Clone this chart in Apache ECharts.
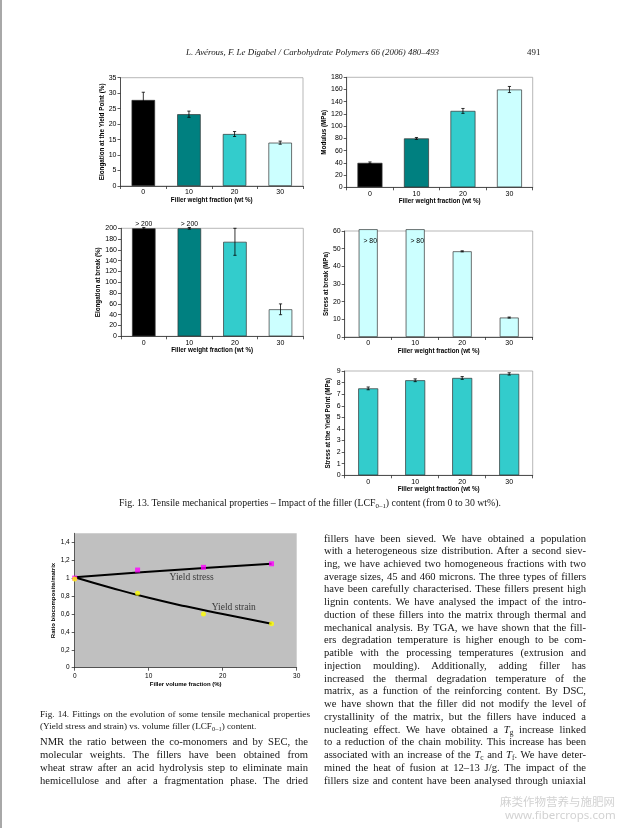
<!DOCTYPE html>
<html><head><meta charset="utf-8">
<script src="https://cdn.jsdelivr.net/npm/echarts@6/dist/echarts.min.js"></script>
<style>
html,body{margin:0;padding:0;background:#fff;}
#page{position:relative;width:620px;height:828px;overflow:hidden;background:#fff;}
#chart{position:absolute;left:0;top:0;width:620px;height:828px;}
.t{position:absolute;font-family:"Liberation Serif","Times New Roman",serif;color:#151515;white-space:nowrap;}
.j{text-align:justify;text-align-last:justify;white-space:normal;}
.t sub{font-size:70%;vertical-align:-2px;line-height:0;}
</style></head><body>
<div id="page"><div id="chart"></div><div id="txt"></div></div>
<script>
// ---------- data ----------
const fracCats = ['0', '10', '20', '30'];
const elongYield = [27.8, 23.2, 16.8, 14.0];
const elongYieldErr = [2.5, 1.0, 0.8, 0.5];
const modulus = [40, 80, 125, 160];
const modulusErr = [1.5, 1.5, 4, 5];
const elongBreak = [200, 200, 175, 50];
const elongBreakErr = [1.5, 1.5, 25, 10];
const elongBreakLabels = ['> 200', '> 200', '', ''];
const stressBreak = [61, 61, 48.5, 11];
const stressBreakErr = [0, 0, 0.3, 0.3];
const stressBreakLabels = ['> 80', '> 80', '', ''];
const stressYield = [7.5, 8.2, 8.4, 8.75];
const stressYieldErr = [0.12, 0.12, 0.12, 0.1];

const volFraction = [0, 8.5, 17.4, 26.6];
const yieldStressRatio = [1.0, 1.09, 1.12, 1.16];
const yieldStrainRatio = [0.99, 0.83, 0.60, 0.49];
const stressFitX = [0, 9, 18, 26.6];
const stressFitY = [1.01, 1.065, 1.115, 1.16];
const strainFitX = [0, 5, 10, 15, 20, 26.6];
const strainFitY = [1.01, 0.89, 0.78, 0.685, 0.60, 0.49];
const fitLabels = ['Yield stress', 'Yield strain'];
const fitLabelX = [15.8, 21.5];
const fitLabelY = [1.01, 0.67];

// ---------- helpers ----------
const sans = 'Liberation Sans, Arial, sans-serif';
const colors4 = ['#000000', '#008080', '#33cccc', '#ccffff'];

function yAx(gi, max, interval, name, gap) {
  return {
    type: 'value', gridIndex: gi, min: 0, max: max, interval: interval,
    name: name, nameLocation: 'middle', nameRotate: 90, nameGap: gap,
    nameTextStyle: {fontFamily: sans, fontWeight: 'bold', fontSize: 6.3, color: '#000'},
    axisLine: {show: true, lineStyle: {color: '#333', width: 0.8}},
    axisTick: {show: true, length: 3, lineStyle: {color: '#333', width: 0.8}},
    axisLabel: {fontSize: 7, color: '#000', margin: 4, fontFamily: sans},
    splitLine: {show: false}
  };
}
function xAx(gi, name, gap) {
  return {
    type: 'category', gridIndex: gi, data: fracCats,
    name: name, nameLocation: 'middle', nameGap: gap,
    nameTextStyle: {fontFamily: sans, fontWeight: 'bold', fontSize: 6.3, color: '#000'},
    axisLine: {show: true, lineStyle: {color: '#333', width: 0.8}},
    axisTick: {show: true, length: 3, alignWithLabel: false, lineStyle: {color: '#333', width: 0.8}},
    axisLabel: {fontSize: 7, color: '#000', margin: 3, fontFamily: sans},
    splitLine: {show: false}
  };
}
function errRender(params, api) {
  const i = api.value(0), v = api.value(1), e = api.value(2);
  if (!e) return null;
  const top = api.coord([i, v + e]);
  const bot = api.coord([i, v - e]);
  const h = 1.6;
  const st = {stroke: '#000', lineWidth: 0.8};
  return {type: 'group', children: [
    {type: 'line', shape: {x1: top[0], y1: top[1], x2: bot[0], y2: bot[1]}, style: st},
    {type: 'line', shape: {x1: top[0] - h, y1: top[1], x2: top[0] + h, y2: top[1]}, style: st},
    {type: 'line', shape: {x1: bot[0] - h, y1: bot[1], x2: bot[0] + h, y2: bot[1]}, style: st}
  ]};
}
function barSeries(gi, vals, cols, width, labels, labelPos) {
  return {
    type: 'bar', xAxisIndex: gi, yAxisIndex: gi, barWidth: width, clip: false,
    data: vals.map((v, i) => {
      const d = {value: v, itemStyle: {color: cols[i], borderColor: '#333', borderWidth: 0.7}};
      if (labels && labels[i]) {
        d.label = Object.assign({show: true, formatter: labels[i], fontSize: 6.8, color: '#000', fontFamily: sans}, labelPos);
      }
      return d;
    }),
    z: 2
  };
}
function errSeries(gi, vals, errs) {
  return {
    type: 'custom', xAxisIndex: gi, yAxisIndex: gi, renderItem: errRender, silent: true, z: 5,
    encode: {x: 0, y: 1},
    data: vals.map((v, i) => [i, v, errs[i]])
  };
}
const gridStyle = {show: true, borderColor: '#9a9a9a', borderWidth: 0.7, backgroundColor: 'transparent'};

const chart = echarts.init(document.getElementById('chart'), null, {renderer: 'canvas'});
const option = {
  animation: false,
  grid: [
    Object.assign({left: 120.5, top: 77.7, width: 182.5, height: 108.3}, gridStyle),
    Object.assign({left: 346.7, top: 77.3, width: 186, height: 110}, gridStyle),
    Object.assign({left: 121, top: 228.3, width: 182.3, height: 108}, gridStyle),
    Object.assign({left: 344.7, top: 231, width: 188, height: 106}, gridStyle),
    Object.assign({left: 344.7, top: 371, width: 188, height: 104.3}, gridStyle),
    {left: 74.7, top: 533.3, width: 222, height: 134.4, show: true, backgroundColor: '#c0c0c0', borderWidth: 0}
  ],
  xAxis: [
    xAx(0, 'Filler weight fraction (wt %)', 11),
    xAx(1, 'Filler weight fraction (wt %)', 11),
    xAx(2, 'Filler weight fraction (wt %)', 11),
    xAx(3, 'Filler weight fraction (wt %)', 11),
    xAx(4, 'Filler weight fraction (wt %)', 11),
    {
      type: 'value', gridIndex: 5, min: 0, max: 30, interval: 10,
      name: 'Filler volume fraction (%)', nameLocation: 'middle', nameGap: 14,
      nameTextStyle: {fontFamily: sans, fontWeight: 'bold', fontSize: 6, color: '#000'},
      axisLine: {show: true, onZero: false, lineStyle: {color: '#333', width: 0.8}},
      axisTick: {show: true, length: 3, lineStyle: {color: '#333', width: 0.8}},
      axisLabel: {fontSize: 6.5, color: '#000', margin: 5, fontFamily: sans},
      splitLine: {show: false}
    }
  ],
  yAxis: [
    yAx(0, 35, 5, 'Elongation at the Yield Point (%)', 14),
    yAx(1, 180, 20, 'Modulus (MPa)', 13),
    yAx(2, 200, 20, 'Elongation at break (%)', 13),
    yAx(3, 60, 10, 'Stress at break (MPa)', 14),
    yAx(4, 9, 1, 'Stress at the Yield Point (MPa)', 13),
    {
      type: 'value', gridIndex: 5, min: 0, max: 1.5, interval: 0.2,
      name: 'Ratio biocomposite/matrix', nameLocation: 'middle', nameRotate: 90, nameGap: 18,
      nameTextStyle: {fontFamily: sans, fontWeight: 'bold', fontSize: 6, color: '#000'},
      axisLine: {show: true, lineStyle: {color: '#333', width: 0.8}},
      axisTick: {show: true, length: 3, lineStyle: {color: '#333', width: 0.8}},
      axisLabel: {fontSize: 6.5, color: '#000', margin: 5, fontFamily: sans, showMaxLabel: false,
        formatter: v => (Math.round(v * 10) / 10).toString().replace('.', ',')},
      splitLine: {show: false}
    }
  ],
  series: [
    barSeries(0, elongYield, colors4, 23.5),
    errSeries(0, elongYield, elongYieldErr),
    barSeries(1, modulus, colors4, 25),
    errSeries(1, modulus, modulusErr),
    barSeries(2, elongBreak, colors4, 23.5, elongBreakLabels, {position: 'top', distance: 1}),
    errSeries(2, elongBreak, elongBreakErr),
    barSeries(3, stressBreak, ['#ccffff', '#ccffff', '#ccffff', '#ccffff'], 19, stressBreakLabels, {position: 'insideTop', distance: 8, offset: [2, 0]}),
    errSeries(3, stressBreak, stressBreakErr),
    barSeries(4, stressYield, ['#33cccc', '#33cccc', '#33cccc', '#33cccc'], 20),
    errSeries(4, stressYield, stressYieldErr),
    {
      type: 'line', xAxisIndex: 5, yAxisIndex: 5, smooth: true, showSymbol: false, symbol: 'none',
      lineStyle: {color: '#000', width: 2}, data: stressFitX.map((x, i) => [x, stressFitY[i]]), z: 3
    },
    {
      type: 'line', xAxisIndex: 5, yAxisIndex: 5, smooth: true, showSymbol: false, symbol: 'none',
      lineStyle: {color: '#000', width: 2}, data: strainFitX.map((x, i) => [x, strainFitY[i]]), z: 3
    },
    {
      type: 'scatter', xAxisIndex: 5, yAxisIndex: 5, symbol: 'rect', symbolSize: 5,
      itemStyle: {color: '#ff00ff'}, data: volFraction.map((x, i) => [x, yieldStressRatio[i]]), z: 4
    },
    {
      type: 'scatter', xAxisIndex: 5, yAxisIndex: 5, symbol: 'circle', symbolSize: 5,
      itemStyle: {color: '#ffff00'}, data: volFraction.map((x, i) => [x, yieldStrainRatio[i]]), z: 4
    },
    {
      type: 'scatter', xAxisIndex: 5, yAxisIndex: 5, symbolSize: 0, silent: true, z: 6,
      data: fitLabels.map((t, i) => ({value: [fitLabelX[i], fitLabelY[i]], name: t})),
      label: {show: true, position: 'inside', formatter: p => p.name,
        fontFamily: 'Liberation Serif, serif', fontSize: 9.5, color: '#111'}
    }
  ],
  graphic: [
    {type: 'rect', left: 0, top: 0, shape: {width: 2, height: 828}, style: {fill: '#a8a8a8'}, silent: true},
    {type: 'text', left: 500, top: 796, style: {text: '麻类作物营养与施肥网', fontFamily: 'Noto Sans CJK SC', fontSize: 11.5, fill: '#d2d2d2'}},
    {type: 'text', left: 505, top: 810, style: {text: 'www.fibercrops.com', fontFamily: 'Noto Sans, sans-serif', fontSize: 11.5, fill: '#d2d2d2'}}
  ]
};
chart.setOption(option);

// ---------- page text ----------
const headerText = 'L. Avérous, F. Le Digabel / Carbohydrate Polymers 66 (2006) 480–493';
const pageNum = '491';
const fig13Caption = 'Fig. 13. Tensile mechanical properties – Impact of the filler (LCF<sub>0–1</sub>) content (from 0 to 30 wt%).';
const fig14Caption = [
  'Fig. 14. Fittings on the evolution of some tensile mechanical properties',
  '(Yield stress and strain) vs. volume filler (LCF<sub>0–1</sub>) content.'
];
const leftCol = [
  'NMR the ratio between the co-monomers and by SEC, the',
  'molecular weights. The fillers have been obtained from',
  'wheat straw after an acid hydrolysis step to eliminate main',
  'hemicellulose and after a fragmentation phase. The dried'
];
const rightCol = [
  'fillers have been sieved. We have obtained a population',
  'with a heterogeneous size distribution. After a second siev-',
  'ing, we have achieved two homogeneous fractions with two',
  'average sizes, 45 and 460 microns. The three types of fillers',
  'have been carefully characterised. These fillers present high',
  'lignin contents. We have analysed the impact of the intro-',
  'duction of these fillers into the matrix through thermal and',
  'mechanical analysis. By TGA, we have shown that the fill-',
  'ers degradation temperature is higher enough to be com-',
  'patible with the processing temperatures (extrusion and',
  'injection moulding). Additionally, adding filler has',
  'increased the thermal degradation temperature of the',
  'matrix, as a function of the reinforcing content. By DSC,',
  'we have shown that the filler did not modify the level of',
  'crystallinity of the matrix, but the fillers have induced a',
  'nucleating effect. We have obtained a <i>T</i><sub>g</sub> increase linked',
  'to a reduction of the chain mobility. This increase has been',
  'associated with an increase of the <i>T</i><sub>c</sub> and <i>T</i><sub>f</sub>. We have deter-',
  'mined the heat of fusion at 12–13 J/g. The impact of the',
  'fillers size and content have been analysed through uniaxial'
];

const txt = document.getElementById('txt');
function addLine(html, x, yc, size, opts) {
  opts = opts || {};
  const d = document.createElement('div');
  d.className = 't' + (opts.width ? ' j' : '');
  d.innerHTML = html;
  const lh = Math.round(size * 1.25);
  d.style.left = x + 'px';
  d.style.top = (yc - lh / 2) + 'px';
  d.style.fontSize = size + 'px';
  d.style.lineHeight = lh + 'px';
  if (opts.width) d.style.width = opts.width + 'px';
  if (opts.italic) d.style.fontStyle = 'italic';
  if (opts.center) { d.style.width = opts.center + 'px'; d.style.textAlign = 'center'; }
  txt.appendChild(d);
}
addLine(headerText, 186, 52, 8.9, {italic: true});
addLine(pageNum, 527, 52, 8.9);
addLine(fig13Caption, 0, 503, 9.8, {center: 620});
addLine(fig14Caption[0], 40, 714, 9.2, {width: 270});
addLine(fig14Caption[1], 40, 726, 9.2);
const lead = 12.74;
const lastY = 780;
leftCol.forEach((l, i) => addLine(l, 40, lastY - lead * (leftCol.length - 1 - i), 10.6, {width: 268}));
rightCol.forEach((l, i) => addLine(l, 324, 538 + lead * i, 10.6, {width: 262}));
</script>
</body></html>
